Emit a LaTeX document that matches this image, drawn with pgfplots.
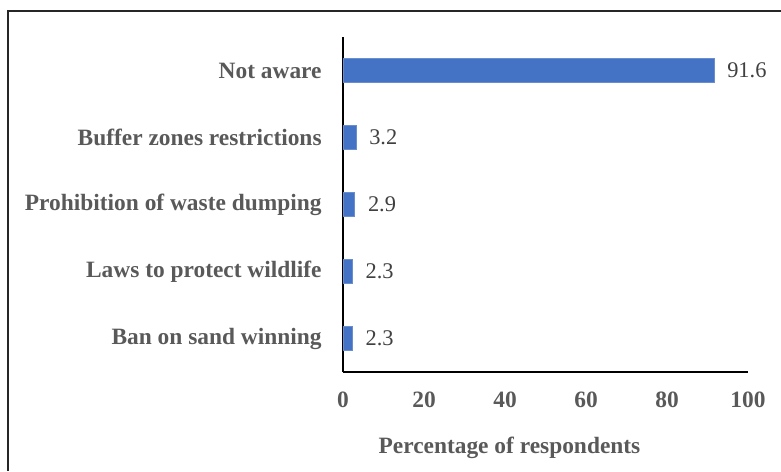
\documentclass[border=0pt]{standalone}
\usepackage{pgfplots}
\pgfplotsset{compat=1.18}
\usepackage{fontspec}
\setmainfont{Liberation Serif}
\definecolor{barblue}{HTML}{4472C4}
\definecolor{labelgray}{HTML}{595959}
\definecolor{valgray}{HTML}{404040}
\begin{document}
\begin{tikzpicture}
% page extent and the partial frame round the chart
\path[use as bounding box] (0,0) rectangle (390.5pt,235.5pt);
\draw[line width=0.75pt, black!85] (4pt,0pt) -- (4pt,230pt) -- (390.5pt,230pt);
\begin{axis}[
  at={(171.5pt,49.5pt)}, anchor=south west,
  scale only axis, width=202.5pt, height=167.5pt,
  xbar, bar width=12pt,
  xmin=0, xmax=100, ymin=-0.5, ymax=4.5,
  enlargelimits=false, clip=false,
  axis x line*=bottom, axis y line*=left,
  axis line style={line width=0.7pt, black},
  major tick length=0pt,
  xtick={0,20,40,60,80,100},
  ytick={0,1,2,3,4},
  yticklabels={Ban on sand winning, Laws to protect wildlife, Prohibition of waste dumping, Buffer zones restrictions, Not aware},
  /pgf/number format/assume math mode=true,
  every tick label/.append style={font=\fontsize{11.7}{14}\selectfont\bfseries, text=labelgray},
  xticklabel style={anchor=center, inner sep=0pt, yshift=-14pt},
  yticklabel style={anchor=east, inner sep=0pt, xshift=-10.5pt},
  xlabel={Percentage of respondents},
  x label style={at={(axis description cs:0.411,0)}, anchor=center, yshift=-38pt,
    font=\fontsize{11.7}{14}\selectfont\bfseries, text=labelgray},
  nodes near coords,
  nodes near coords style={anchor=west, inner sep=0pt, xshift=6.5pt,
    font=\fontsize{11.2}{13}\selectfont, text=valgray,
    /pgf/number format/.cd, fixed, precision=1, fixed zerofill, assume math mode=true},
]
\addplot[fill=barblue, draw=barblue!80!white, line width=0.3pt]
  coordinates {(2.3,0) (2.3,1) (2.9,2) (3.2,3) (91.6,4)};
\end{axis}
\end{tikzpicture}
\end{document}
